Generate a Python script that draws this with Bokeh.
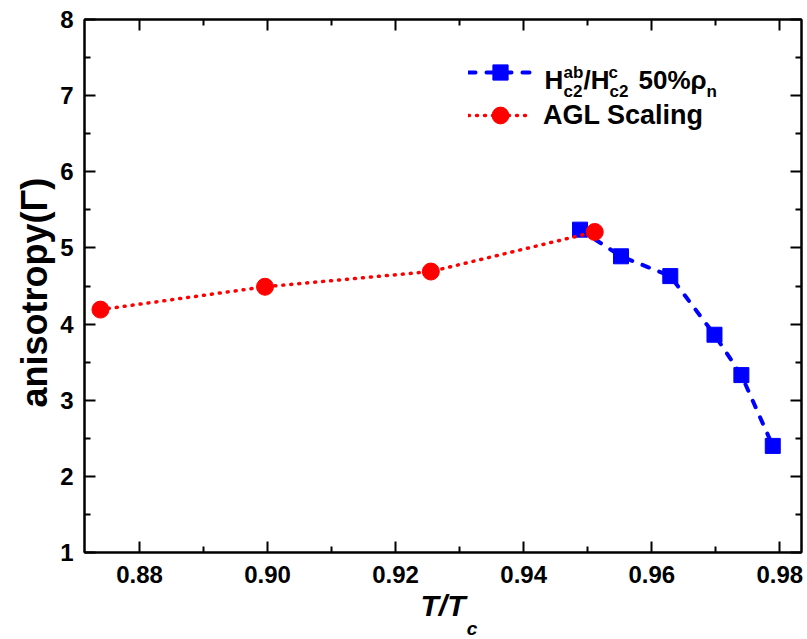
import math
from bokeh.plotting import figure
from bokeh.models import (FixedTicker, LinearAxis, Range1d, Label, Legend, LegendItem,
                          CustomLabelingPolicy)
from bokeh.embed import file_html
from bokeh.resources import INLINE

# ---- data ----
hc2_t = [0.9488, 0.9552, 0.9629, 0.9698, 0.9740, 0.9789]
hc2_gamma = [5.24, 4.89, 4.63, 3.86, 3.33, 2.40]
agl_t = [0.8739, 0.8996, 0.9255, 0.9511]
agl_gamma = [4.19, 4.49, 4.69, 5.21]

x_ticks = [0.88, 0.90, 0.92, 0.94, 0.96, 0.98]
x_tick_labels = ["0.88", "0.90", "0.92", "0.94", "0.96", "0.98"]
x_minor = [0.89, 0.91, 0.93, 0.95, 0.97]
y_ticks = [1, 2, 3, 4, 5, 6, 7, 8]
y_tick_labels = ["1", "2", "3", "4", "5", "6", "7", "8"]
y_minor = [1.5, 2.5, 3.5, 4.5, 5.5, 6.5, 7.5]

FONT = "Liberation Sans"
BLUE = "#0000ff"
RED = "#ff0000"

p = figure(width=807, height=639,
           x_range=Range1d(0.87141, 0.98339), y_range=Range1d(1, 8),
           output_backend="svg", toolbar_location=None,
           min_border_left=84, min_border_right=6,
           min_border_top=19, min_border_bottom=87)
p.xgrid.visible = False
p.ygrid.visible = False
p.outline_line_color = "black"
p.outline_line_width = 2
p.background_fill_color = "white"
p.border_fill_color = "white"

xax = p.xaxis[0]
yax = p.yaxis[0]


def style_axis(ax, ticks, minor, labels, show):
    ax.ticker = FixedTicker(ticks=ticks, minor_ticks=minor)
    ax.axis_line_width = 2
    ax.axis_line_color = "black"
    ax.major_tick_line_width = 2
    ax.minor_tick_line_width = 2
    ax.major_tick_in = 11
    ax.major_tick_out = 0
    ax.minor_tick_in = 6
    ax.minor_tick_out = 0
    ax.major_label_text_font = FONT
    ax.major_label_text_font_style = "bold"
    ax.major_label_text_color = "black"
    if show:
        ax.major_label_overrides = {t: l for t, l in zip(ticks, labels)}
        ax.major_label_text_font_size = "24px"
    else:
        ax.major_label_text_font_size = "2px"
        ax.major_label_standoff = 0
        ax.major_label_policy = CustomLabelingPolicy(
            code="return new indices.constructor(indices.size, 0)")


style_axis(xax, x_ticks, x_minor, x_tick_labels, True)
style_axis(yax, y_ticks, y_minor, y_tick_labels, True)
xax.major_label_standoff = 13
yax.major_label_standoff = 11

top_ax = LinearAxis()
style_axis(top_ax, x_ticks, x_minor, x_tick_labels, False)
p.add_layout(top_ax, "above")
right_ax = LinearAxis()
style_axis(right_ax, y_ticks, y_minor, y_tick_labels, False)
p.add_layout(right_ax, "right")

# x axis label  T/T_c
xax.axis_label = "T/T"
xax.axis_label_text_font = FONT
xax.axis_label_text_font_style = "bold italic"
xax.axis_label_text_font_size = "30px"
xax.axis_label_text_color = "black"
xax.axis_label_standoff = 3
# subscript c (placed in the spare left border so it is not clipped)
p.add_layout(Label(x=0.93110, y=0.0, text="c", text_font=FONT,
                   text_font_style="bold italic", text_font_size="19px",
                   text_color="black",
                   text_align="left", text_baseline="middle"), "left")

# y axis label
p.add_layout(Label(x=0.86366, y=2.904, text="anisotropy(Γ)", angle=math.pi / 2,
                   text_font=FONT, text_font_style="bold", text_font_size="36px",
                   text_color="black",
                   text_align="left", text_baseline="middle"), "left")

# series
blue_line = p.line(hc2_t, hc2_gamma, line_color=BLUE, line_width=4,
                   line_dash="7 11", line_cap="round")
blue_pts = p.scatter(hc2_t, hc2_gamma, marker="square", size=15,
                     fill_color=BLUE, line_color=BLUE)
red_line = p.line(agl_t, agl_gamma, line_color=RED, line_width=3.5,
                  line_dash="1 7", line_cap="round")
red_pts = p.scatter(agl_t, agl_gamma, marker="circle", size=17,
                    fill_color=RED, line_color=RED)

# legends
common = dict(glyph_width=64, label_standoff=11, padding=0, margin=0, spacing=0,
              border_line_alpha=0, background_fill_alpha=0,
              label_text_font=FONT, label_text_font_style="bold",
              label_text_font_size="27px", label_text_color="black")
leg_b = Legend(items=[LegendItem(label=" ", renderers=[blue_line, blue_pts])],
               location=(384, 461), glyph_height=38, **common)
leg_r = Legend(items=[LegendItem(label="AGL Scaling", renderers=[red_line, red_pts])],
               location=(384, 416), glyph_height=42, **common)
p.add_layout(leg_b)
p.add_layout(leg_r)


# blue legend text  H^ab_c2 / H^c_c2  50%ρ_n
def txt(x, y, s, size, style="bold"):
    p.add_layout(Label(x=x, y=y, text=s, text_font=FONT, text_font_style=style,
                       text_font_size=size, text_align="left",
                       text_baseline="alphabetic", text_color="black"))


txt(0.94325, 7.208, "H", "26px")
txt(0.94622, 7.308, "ab", "17px")
txt(0.94622, 7.058, "c2", "17px")
txt(0.94934, 7.208, "/H", "26px")
txt(0.95325, 7.308, "c", "17px")
txt(0.95340, 7.058, "c2", "17px")
txt(0.95793, 7.208, "50%ρ", "26px")
txt(0.96855, 7.058, "n", "17px")

open("out.html", "w").write(file_html(p, INLINE))
